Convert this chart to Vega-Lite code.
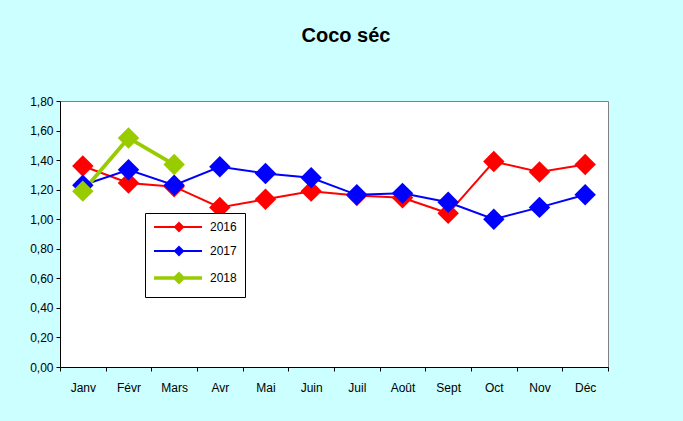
{
  "$schema": "https://vega.github.io/schema/vega-lite/v6.json",
  "width": 548,
  "height": 266,
  "autosize": {"type": "none"},
  "padding": {"left": 60, "top": 101, "right": 75, "bottom": 54},
  "background": "#CCFFFF",
  "title": {
    "text": "Coco séc",
    "font": "Liberation Sans",
    "fontSize": 20,
    "fontWeight": "bold",
    "color": "#000000",
    "anchor": "middle",
    "frame": "group",
    "offset": 49,
    "dx": 12
  },
  "config": {
    "view": {"stroke": "#808080", "strokeWidth": 1, "fill": "#FFFFFF"},
    "axis": {
      "labelFont": "Liberation Sans",
      "labelFontSize": 12,
      "labelColor": "#000000",
      "domainColor": "#000000",
      "tickColor": "#000000",
      "grid": false,
      "title": null
    }
  },
  "data": {
    "values": [
      {"month": "Janv", "year": "2016", "value": 1.36},
      {"month": "Févr", "year": "2016", "value": 1.245},
      {"month": "Mars", "year": "2016", "value": 1.22},
      {"month": "Avr", "year": "2016", "value": 1.08},
      {"month": "Mai", "year": "2016", "value": 1.135},
      {"month": "Juin", "year": "2016", "value": 1.19},
      {"month": "Juil", "year": "2016", "value": 1.16},
      {"month": "Août", "year": "2016", "value": 1.145},
      {"month": "Sept", "year": "2016", "value": 1.04},
      {"month": "Oct", "year": "2016", "value": 1.39},
      {"month": "Nov", "year": "2016", "value": 1.32},
      {"month": "Déc", "year": "2016", "value": 1.37},
      {"month": "Janv", "year": "2017", "value": 1.23},
      {"month": "Févr", "year": "2017", "value": 1.335},
      {"month": "Mars", "year": "2017", "value": 1.23},
      {"month": "Avr", "year": "2017", "value": 1.355},
      {"month": "Mai", "year": "2017", "value": 1.31},
      {"month": "Juin", "year": "2017", "value": 1.28},
      {"month": "Juil", "year": "2017", "value": 1.165},
      {"month": "Août", "year": "2017", "value": 1.175},
      {"month": "Sept", "year": "2017", "value": 1.115},
      {"month": "Oct", "year": "2017", "value": 1.0},
      {"month": "Nov", "year": "2017", "value": 1.08},
      {"month": "Déc", "year": "2017", "value": 1.165},
      {"month": "Janv", "year": "2018", "value": 1.19},
      {"month": "Févr", "year": "2018", "value": 1.55},
      {"month": "Mars", "year": "2018", "value": 1.37}
    ]
  },
  "encoding": {
    "x": {
      "field": "month",
      "type": "nominal",
      "sort": ["Janv", "Févr", "Mars", "Avr", "Mai", "Juin", "Juil", "Août", "Sept", "Oct", "Nov", "Déc"],
      "scale": {"paddingInner": 0, "paddingOuter": 0},
      "axis": {"labelAngle": 0, "tickBand": "extent", "tickSize": 4, "labelPadding": 11, "domainWidth": 1}
    },
    "y": {
      "field": "value",
      "type": "quantitative",
      "scale": {"domain": [0, 1.8], "nice": false, "zero": true},
      "axis": {
        "values": [0, 0.2, 0.4, 0.6, 0.8, 1.0, 1.2, 1.4, 1.6, 1.8],
        "labelExpr": "replace(format(datum.value, '.2f'), '.', ',')",
        "tickSize": 4,
        "labelPadding": 3
      }
    },
    "color": {
      "field": "year",
      "type": "nominal",
      "scale": {"domain": ["2016", "2017", "2018"], "range": ["#FF0000", "#0000FF", "#99CC00"]},
      "legend": {
        "title": null,
        "orient": "none",
        "legendX": 85,
        "legendY": 112,
        "fillColor": "#FFFFFF",
        "strokeColor": "#000000",
        "padding": 8,
        "rowPadding": 8,
        "labelFont": "Liberation Sans",
        "labelFontSize": 12,
        "labelColor": "#000000",
        "labelOffset": 45,
        "symbolSize": 100,
        "symbolType": "M-1,0H8.6M4,-0.8L4.8,0L4,0.8L3.2,0Z",
        "encode": {
          "symbols": {
            "update": {
              "fill": {"scale": "color", "field": "value"},
              "stroke": {"scale": "color", "field": "value"},
              "strokeWidth": {"signal": "datum.value === '2018' ? 3.5 : 2"},
              "opacity": {"value": 1},
              "fillOpacity": {"value": 1},
              "strokeOpacity": {"value": 1}
            }
          }
        }
      }
    }
  },
  "layer": [
    {
      "mark": {"type": "line"},
      "encoding": {
        "strokeWidth": {
          "condition": {"test": "datum.year === '2018'", "value": 3.8},
          "value": 2
        }
      }
    },
    {
      "mark": {"type": "point", "shape": "diamond", "filled": true, "size": 460, "opacity": 1}
    }
  ]
}
